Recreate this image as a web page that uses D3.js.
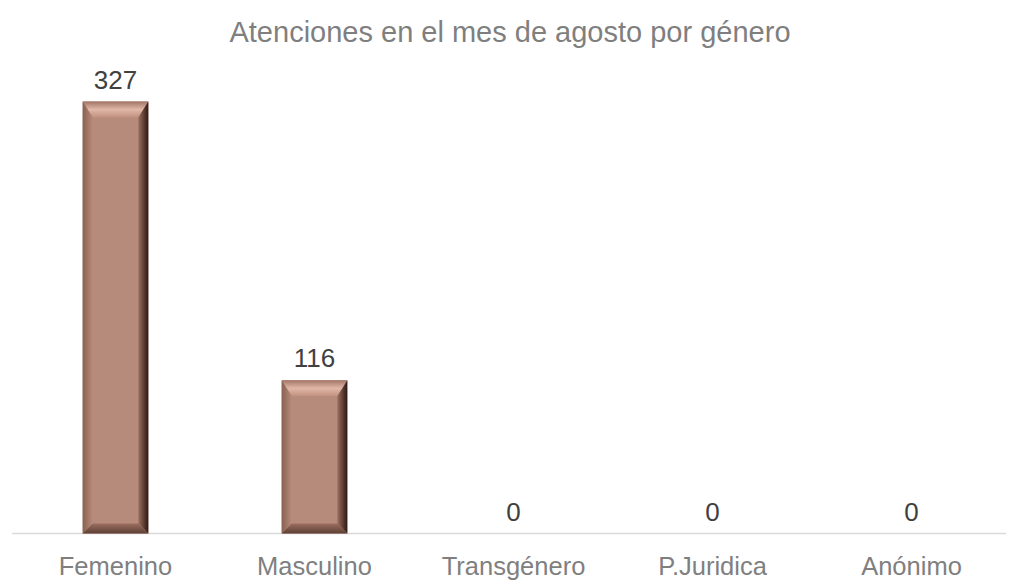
<!DOCTYPE html>
<html><head><meta charset="utf-8">
<script src="https://cdn.jsdelivr.net/npm/d3@7"></script>
<style>body{margin:0;background:#fff;} svg{display:block;}</style>
</head><body>
<script>
const categories = ["Femenino","Masculino","Transgénero","P.Juridica","Anónimo"];
const values = [327,116,0,0,0];
const title = "Atenciones en el mes de agosto por género";

const W=1017,H=581;
const svg=d3.select("body").append("svg").attr("width",W).attr("height",H);
const x=d3.scaleBand().domain(categories).range([16,1011]).paddingInner(0.67).paddingOuter(0.335);
const y=d3.scaleLinear().domain([0,327]).range([533.5,101.5]);

const defs=svg.append("defs");
const g1=defs.append("linearGradient").attr("id","top").attr("x1",0).attr("y1",0).attr("x2",0).attr("y2",1);
g1.append("stop").attr("offset","0%").attr("stop-color","#a27565");
g1.append("stop").attr("offset","50%").attr("stop-color","#e0b8a8");
g1.append("stop").attr("offset","100%").attr("stop-color","#c09080");
const gl=defs.append("linearGradient").attr("id","left").attr("x1",0).attr("y1",0).attr("x2",1).attr("y2",0);
gl.append("stop").attr("offset","0%").attr("stop-color","#8a6050");
gl.append("stop").attr("offset","100%").attr("stop-color","#b68b7b");
const gr=defs.append("linearGradient").attr("id","right").attr("x1",0).attr("y1",0).attr("x2",1).attr("y2",0);
gr.append("stop").attr("offset","0%").attr("stop-color","#9a7060");
gr.append("stop").attr("offset","60%").attr("stop-color","#5a3a30");
gr.append("stop").attr("offset","100%").attr("stop-color","#2a1a15");
const gb=defs.append("linearGradient").attr("id","bot").attr("x1",0).attr("y1",0).attr("x2",0).attr("y2",1);
gb.append("stop").attr("offset","0%").attr("stop-color","#9a6e5f");
gb.append("stop").attr("offset","100%").attr("stop-color","#5e4035");

// baseline
svg.append("line").attr("x1",12).attr("x2",1006).attr("y1",533.5).attr("y2",533.5)
  .attr("stroke","#d9d9d9").attr("stroke-width",1.5);

const data=categories.map((c,i)=>({c,v:values[i]}));
const bars=svg.append("g").selectAll("g").data(data.filter(d=>d.v>0)).join("g");
const b=10;
bars.each(function(d){
  const g=d3.select(this);
  const x0=x(d.c),x1=x0+x.bandwidth(),y0=y(d.v),y1=y(0);
  g.append("rect").attr("x",x0).attr("y",y0).attr("width",x1-x0).attr("height",y1-y0).attr("fill","#b68b7b");
  const pts=a=>a.map(p=>p.join(",")).join(" ");
  g.append("polygon").attr("points",pts([[x0,y0],[x1,y0],[x1-b,y0+b*1.6],[x0+b,y0+b*1.6]])).attr("fill","url(#top)");
  g.append("polygon").attr("points",pts([[x0,y0],[x0+b,y0+b*1.6],[x0+b,y1-b],[x0,y1]])).attr("fill","url(#left)");
  g.append("polygon").attr("points",pts([[x1,y0],[x1-b,y0+b*1.6],[x1-b,y1-b],[x1,y1]])).attr("fill","url(#right)");
  g.append("polygon").attr("points",pts([[x0,y1],[x0+b,y1-b],[x1-b,y1-b],[x1,y1]])).attr("fill","url(#bot)");
});

svg.append("g").selectAll("text").data(data).join("text")
  .attr("x",d=>x(d.c)+x.bandwidth()/2).attr("y",d=>y(d.v)-13)
  .attr("text-anchor","middle").attr("font-family","Liberation Sans, Arial, sans-serif")
  .attr("font-size",26).attr("fill","#404040").text(d=>d.v);

svg.append("g").selectAll("text").data(categories).join("text")
  .attr("x",d=>x(d)+x.bandwidth()/2).attr("y",575)
  .attr("text-anchor","middle").attr("font-family","Liberation Sans, Arial, sans-serif")
  .attr("font-size",25.5).attr("fill","#7f7f7f").text(d=>d);

svg.append("text").attr("x",510).attr("y",42).attr("text-anchor","middle")
  .attr("font-family","Liberation Sans, Arial, sans-serif").attr("font-size",29)
  .attr("fill","#7f7f7f").text(title);
</script>
</body></html>
